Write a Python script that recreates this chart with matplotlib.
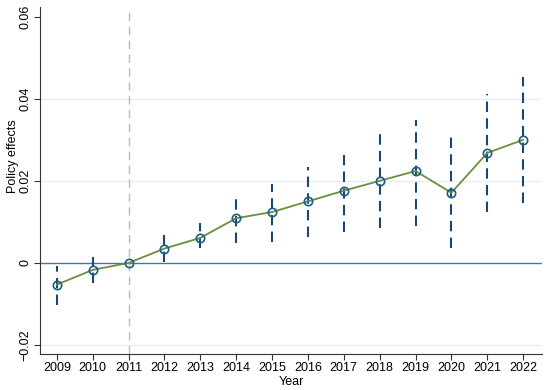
import matplotlib
matplotlib.use("Agg")
import matplotlib.pyplot as plt
import numpy as np

years = [2009, 2010, 2011, 2012, 2013, 2014, 2015, 2016, 2017, 2018, 2019, 2020, 2021, 2022]
effects = [-0.0053, -0.0017, 0.0, 0.0035, 0.0061, 0.0109, 0.0124, 0.0150, 0.0176, 0.0200, 0.0224, 0.0171, 0.0268, 0.0300]
ci_low = [-0.0102, -0.0048, 0.0, 0.0003, 0.0037, 0.0048, 0.0052, 0.0064, 0.0076, 0.0085, 0.0089, 0.0036, 0.0125, 0.0146]
ci_high = [-0.0007, 0.0015, 0.0, 0.0068, 0.0098, 0.0171, 0.0193, 0.0234, 0.0273, 0.0317, 0.0349, 0.0310, 0.0411, 0.0454]
ytick_vals = [-0.02, 0, 0.02, 0.04, 0.06]
ytick_labels = ["\u22120.02", "0", "0.02", "0.04", "0.06"]

plt.rcParams["font.family"] = ["Liberation Sans", "DejaVu Sans"]

fig = plt.figure(figsize=(5.5, 3.9), dpi=100)
ax = fig.add_axes([0.0727, 0.0923, 0.913, 0.89])

# grid lines
for v in [-0.02, 0.02, 0.04]:
    ax.axhline(v, color="#e6eff3", lw=1.0, zorder=0)
ax.axhline(0, color="#3d7ea0", lw=1.0, zorder=1)
ax.axvline(2011, color="#b4bcc4", lw=1.0, ls=(0, (6, 4)), zorder=1)

# confidence intervals
for x, lo, hi in zip(years, ci_low, ci_high):
    if hi > lo:
        ax.plot([x, x], [lo, hi], color="#1a476f", lw=1.5, ls=(0, (5, 3)), zorder=2)

ax.plot(years, effects, color="#6b8e3e", lw=1.3, zorder=3)
ax.plot(years, effects, "o", mfc="none", mec="#1a5e8a", mew=1.2, ms=6, zorder=4)

ax.set_xlim(2008.53, 2022.53)
ax.set_ylim(-0.0222, 0.0624)
ax.set_xticks(years)
ax.set_xticklabels([str(y) for y in years], fontsize=9)
ax.set_yticks(ytick_vals)
ax.set_yticklabels(ytick_labels, fontsize=9, rotation=90, va="center")
ax.set_xlabel("Year", fontsize=9, labelpad=1)
ax.set_ylabel("Policy effects", fontsize=9)
ax.yaxis.set_label_coords(-0.042, 0.57)

for s in ["top", "right"]:
    ax.spines[s].set_visible(False)
ax.spines["left"].set_color("#333333")
ax.spines["bottom"].set_color("#333333")
ax.tick_params(direction="out", length=4, color="#333333", pad=2)

fig.savefig("out.png", dpi=100)
